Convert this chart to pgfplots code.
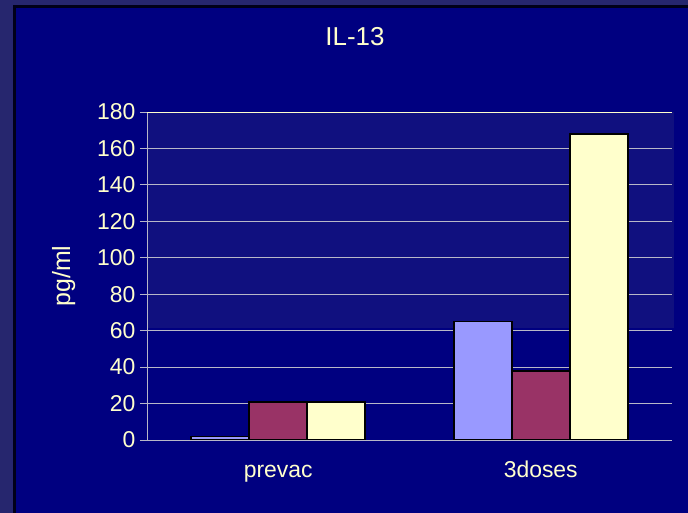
\documentclass[border=0pt]{standalone}
\usepackage{pgfplots}
\pgfplotsset{compat=1.18}
\usepackage{fontspec}
\setmainfont{Liberation Sans}
\definecolor{strip}{HTML}{26266E}
\definecolor{navy}{HTML}{000080}
\definecolor{plotbg}{HTML}{10107F}
\definecolor{cream}{HTML}{FFFFCC}
\definecolor{gridc}{HTML}{B8B8C8}
\definecolor{barblue}{HTML}{9999FF}
\definecolor{barmaroon}{HTML}{993366}
\definecolor{baryellow}{HTML}{FFFFCC}

\begin{document}
\begin{tikzpicture}[x=1bp,y=1bp]
% slide background: strip on the left and top, navy frame
\fill[strip] (-147,-73) rectangle (541,440);
\fill[black!80!navy] (-134,-73) rectangle (541,435);
\fill[navy] (-131,-73) rectangle (541,432);
% lighter part of the plot area
\fill[plotbg] (0,112) rectangle (527,328);
\begin{axis}[
  at={(0,0)}, anchor=south west,
  width=525bp, height=328bp, scale only axis,
  xmin=-0.5, xmax=1.5, ymin=0, ymax=180,
  axis lines=left, axis line style={-, gridc, line width=0.8bp},
  ybar=0bp, bar width=58bp,
  xtick={0,1}, xticklabels={prevac, 3doses},
  major x tick style={draw=none},
  extra x ticks={-0.5,0.5,1.5}, extra x tick labels={},
  extra x tick style={major tick length=7bp, tick style={gridc, line width=0.8bp}},
  ytick={0,20,...,160},
  extra y ticks={180}, extra y tick labels={180},
  extra y tick style={grid style={cream, line width=0.8bp}},
  ymajorgrids, grid style={gridc, line width=0.8bp},
  tick align=outside, major tick length=7bp,
  tick style={gridc, line width=0.8bp},
  /pgf/number format/assume math mode=true,
  ticklabel style={font=\fontsize{23}{25}\selectfont, text=cream},
  xticklabel style={yshift=-10bp, text height=17bp, text depth=5bp},
  yticklabel style={xshift=-1bp},
  ylabel={pg/ml}, ylabel style={font=\fontsize{25}{27}\selectfont, text=cream},
  ylabel shift=1bp,
]
\addplot[draw=black, line width=1.7bp, fill=barblue] coordinates {(0,2) (1,65)};
\addplot[draw=black, line width=1.7bp, fill=barmaroon] coordinates {(0,21) (1,38)};
\addplot[draw=black, line width=1.7bp, fill=baryellow] coordinates {(0,21) (1,168)};
\end{axis}
\node[text=cream, font=\fontsize{26}{28}\selectfont] at (208,403) {IL-13};
\end{tikzpicture}
\end{document}
